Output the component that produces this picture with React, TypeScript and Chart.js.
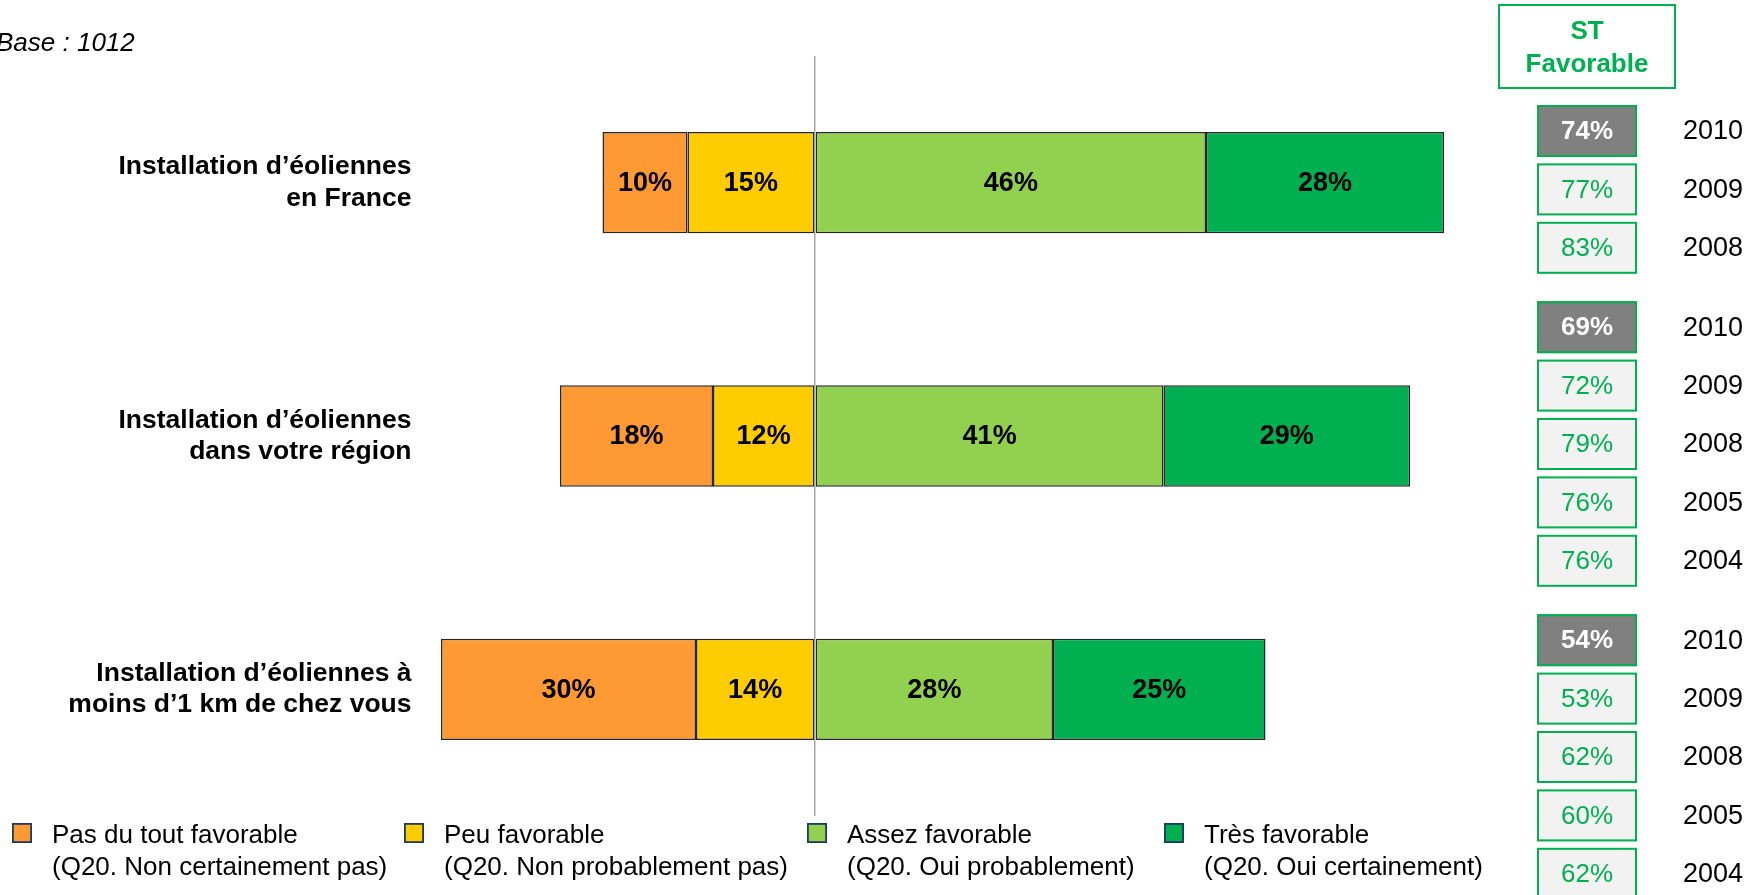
import React, { useEffect, useRef } from "react";
import { Chart, registerables } from "chart.js";

Chart.register(...registerables);

const FONT = '"Liberation Sans", Arial, Helvetica, sans-serif';

// ---------- data ----------
const categories = [
  ["Installation d’éoliennes", "en France"],
  ["Installation d’éoliennes", "dans votre région"],
  ["Installation d’éoliennes à", "moins d’1 km de chez vous"],
];
const pasDuToutFavorable = [10, 18, 30];
const peuFavorable = [15, 12, 14];
const assezFavorable = [46, 41, 28];
const tresFavorable = [28, 29, 25];

const seriesNames = ["Pas du tout favorable", "Peu favorable", "Assez favorable", "Très favorable"];
const seriesNotes = [
  "(Q20. Non certainement pas)",
  "(Q20. Non probablement pas)",
  "(Q20. Oui probablement)",
  "(Q20. Oui certainement)",
];
const seriesColors = ["#FF9933", "#FFCC00", "#92D050", "#00B050"];

const stHeader = ["ST", "Favorable"];
const stFranceValues = [74, 77, 83];
const stFranceYears = ["2010", "2009", "2008"];
const stRegionValues = [69, 72, 79, 76, 76];
const stRegionYears = ["2010", "2009", "2008", "2005", "2004"];
const stKmValues = [54, 53, 62, 60, 62];
const stKmYears = ["2010", "2009", "2008", "2005", "2004"];
const currentYear = "2010";
const baseText = "Base : 1012";

// ---------- plugins ----------
const barLabelsPlugin = {
  id: "barLabels",
  afterDatasetsDraw(chart: any) {
    const ctx = chart.ctx;
    ctx.save();
    ctx.font = `bold 27px ${FONT}`;
    ctx.fillStyle = "#000";
    ctx.textAlign = "center";
    ctx.textBaseline = "middle";
    chart.data.datasets.forEach((ds: any, i: number) => {
      const meta = chart.getDatasetMeta(i);
      meta.data.forEach((el: any, j: number) => {
        const p = el.getProps(["x", "y", "base"], true);
        ctx.fillText(Math.abs(ds.data[j]) + "%", (p.x + p.base) / 2, p.y + 1);
      });
    });
    ctx.restore();
  },
};

const decorPlugin = {
  id: "decor",
  afterDraw(chart: any) {
    const ctx = chart.ctx;
    ctx.save();

    // Base text
    ctx.font = `italic 26px ${FONT}`;
    ctx.fillStyle = "#000";
    ctx.textAlign = "left";
    ctx.textBaseline = "alphabetic";
    ctx.fillText(baseText, -4, 51);

    // Legend
    const legendX = [12, 404, 807, 1164];
    seriesNames.forEach((name, i) => {
      const x = legendX[i];
      ctx.fillStyle = seriesColors[i];
      ctx.fillRect(x, 823, 20, 20);
      ctx.strokeStyle = "#1F3864";
      ctx.lineWidth = 1.8;
      ctx.strokeRect(x + 0.9, 823.9, 18.2, 18.2);
      ctx.fillStyle = "#000";
      ctx.font = `26px ${FONT}`;
      ctx.textAlign = "left";
      ctx.textBaseline = "alphabetic";
      ctx.fillText(name, x + 40, 843);
      ctx.fillText(seriesNotes[i], x + 40, 875);
    });

    // ST Favorable header
    const green = "#00B050";
    ctx.fillStyle = "#fff";
    ctx.fillRect(1498, 4, 178, 85);
    ctx.strokeStyle = green;
    ctx.lineWidth = 2;
    ctx.strokeRect(1499, 5, 176, 83);
    ctx.fillStyle = green;
    ctx.font = `bold 26px ${FONT}`;
    ctx.textAlign = "center";
    ctx.fillText(stHeader[0], 1587, 39);
    ctx.fillText(stHeader[1], 1587, 72);

    // ST table
    const groups = [
      { values: stFranceValues, years: stFranceYears },
      { values: stRegionValues, years: stRegionYears },
      { values: stKmValues, years: stKmYears },
    ];
    const boxX = 1537, boxW = 100, boxH = 52, stride = 58.4, gap = 21;
    let top = 105;
    groups.forEach((g) => {
      g.values.forEach((v, k) => {
        const y = top + k * stride;
        const isCur = g.years[k] === currentYear;
        ctx.fillStyle = isCur ? "#808080" : "#F2F2F2";
        ctx.fillRect(boxX, y, boxW, boxH);
        ctx.strokeStyle = green;
        ctx.lineWidth = 2;
        ctx.strokeRect(boxX + 1, y + 1, boxW - 2, boxH - 2);
        ctx.fillStyle = isCur ? "#fff" : green;
        ctx.font = isCur ? `bold 26px ${FONT}` : `26px ${FONT}`;
        ctx.textAlign = "center";
        ctx.textBaseline = "middle";
        ctx.fillText(v + "%", boxX + boxW / 2, y + boxH / 2 + 1);
        ctx.fillStyle = "#000";
        ctx.font = `27px ${FONT}`;
        ctx.textAlign = "left";
        ctx.fillText(g.years[k], 1683, y + boxH / 2 + 1);
      });
      top += g.values.length * stride + gap;
    });

    ctx.restore();
  },
};

export default function App() {
  const ref = useRef<HTMLCanvasElement | null>(null);

  useEffect(() => {
    if (!ref.current) return;
    const chart = new Chart(ref.current, {
      type: "bar",
      data: {
        labels: categories as any,
        datasets: [
          {
            label: seriesNames[1],
            data: peuFavorable.map((v) => -v),
            backgroundColor: seriesColors[1],
          },
          {
            label: seriesNames[0],
            data: pasDuToutFavorable.map((v) => -v),
            backgroundColor: seriesColors[0],
          },
          {
            label: seriesNames[2],
            data: assezFavorable,
            backgroundColor: seriesColors[2],
          },
          {
            label: seriesNames[3],
            data: tresFavorable,
            backgroundColor: seriesColors[3],
          },
        ].map((d) => ({
          ...d,
          borderColor: "#262626",
          borderWidth: 1.5,
          borderSkipped: false,
          categoryPercentage: 1,
          barPercentage: 0.4,
        })),
      },
      options: {
        indexAxis: "y",
        responsive: false,
        animation: false,
        layout: { padding: { left: 0, right: 263, top: 56, bottom: 79 } },
        plugins: {
          legend: { display: false },
          tooltip: { enabled: false },
        },
        scales: {
          x: {
            stacked: true,
            min: -47,
            max: 80,
            z: 1,
            ticks: { display: false },
            border: { display: false },
            grid: {
              drawTicks: false,
              color: "#A6A6A6",
              lineWidth: 1.5,
            },
            afterBuildTicks: (scale: any) => {
              scale.ticks = [{ value: 0 }];
            },
          },
          y: {
            stacked: true,
            grid: { display: false, drawTicks: false },
            border: { display: false },
            ticks: {
              color: "#000",
              padding: 4,
              font: { family: FONT, size: 26.5, weight: "bold", lineHeight: 1.19 },
            },
            afterFit: (scale: any) => {
              scale.width = 415.5;
            },
          },
        },
      } as any,
      plugins: [barLabelsPlugin, decorPlugin],
    });
    return () => chart.destroy();
  }, []);

  return (
    <div style={{ position: "fixed", left: 0, top: 0, width: 1758, height: 895, background: "#fff" }}>
      <canvas ref={ref} width={1758} height={895} style={{ width: 1758, height: 895, display: "block" }} />
    </div>
  );
}
